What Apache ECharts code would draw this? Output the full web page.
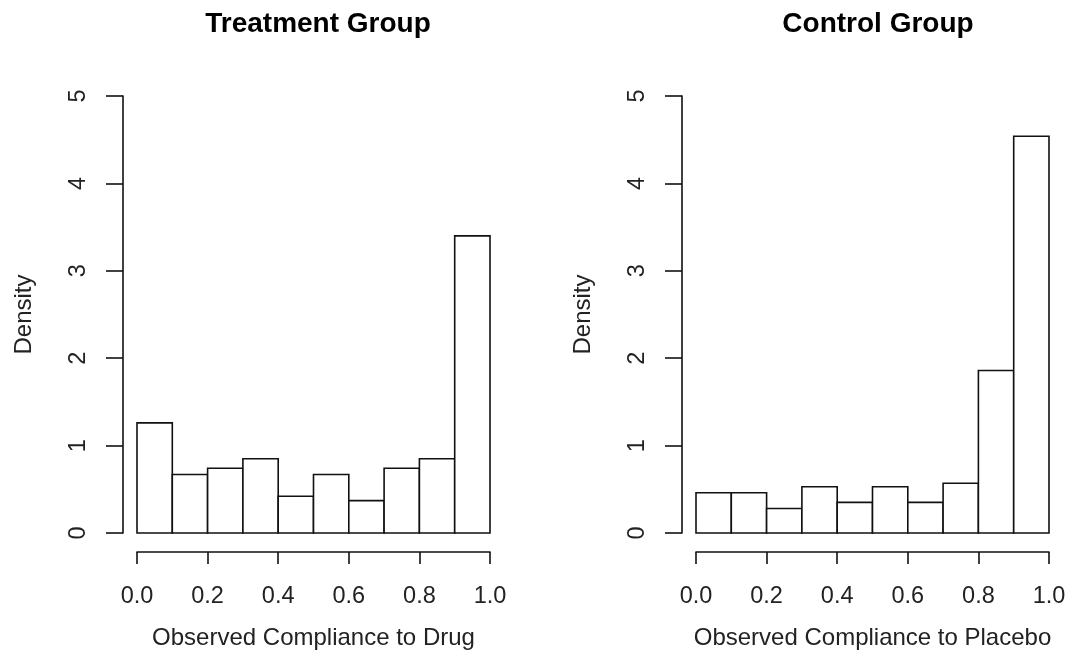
<!DOCTYPE html>
<html>
<head>
<meta charset="utf-8">
<script src="https://cdn.jsdelivr.net/npm/echarts@6/dist/echarts.min.js"></script>
<style>
  html, body { margin: 0; padding: 0; background: #fff; }
  #grafico { width: 1072px; height: 668px; }
</style>
</head>
<body>
<div id="grafico"></div>
<script>
// bin edges (0.0 .. 1.0, width 0.1)
var limites = [0, 0.1, 0.2, 0.3, 0.4, 0.5, 0.6, 0.7, 0.8, 0.9, 1.0];
var densTratamento = [1.26, 0.67, 0.74, 0.85, 0.42, 0.67, 0.37, 0.74, 0.85, 3.40];
var densControle = [0.46, 0.46, 0.28, 0.53, 0.35, 0.53, 0.35, 0.57, 1.86, 4.54];
var ticksY = [0, 1, 2, 3, 4, 5];
var titulos = ['Treatment Group', 'Control Group'];
var nomesX = ['Observed Compliance to Drug', 'Observed Compliance to Placebo'];

function montaBarras(dens) {
  var lista = [];
  for (var i = 0; i < dens.length; i++) {
    lista.push([limites[i], limites[i + 1], dens[i]]);
  }
  return lista;
}

function desenhaBarra(params, api) {
  var a = api.coord([api.value(0), api.value(2)]);
  var b = api.coord([api.value(1), 0]);
  return {
    type: 'rect',
    shape: { x: a[0], y: a[1], width: b[0] - a[0], height: b[1] - a[1] },
    style: { fill: '#fff', stroke: '#111', lineWidth: 1.6 }
  };
}

var fonte = 'Liberation Sans, Arial, sans-serif';
var corLinha = { color: '#111', width: 1.6 };

function eixoX(i) {
  return {
    gridIndex: i,
    type: 'value',
    min: limites[0],
    max: limites[limites.length - 1],
    interval: 0.2,
    offset: 19,
    name: nomesX[i],
    nameLocation: 'middle',
    nameGap: 74,
    nameTextStyle: { fontFamily: fonte, fontSize: 24, color: '#222' },
    axisLine: { show: true, onZero: false, lineStyle: corLinha },
    axisTick: { show: true, length: 12, lineStyle: corLinha },
    axisLabel: {
      fontFamily: fonte, fontSize: 23.5, color: '#222', margin: 33,
      formatter: function (v) { return v.toFixed(1); }
    },
    splitLine: { show: false }
  };
}

function eixoY(i) {
  return {
    gridIndex: i,
    type: 'value',
    min: ticksY[0],
    max: ticksY[ticksY.length - 1],
    interval: 1,
    offset: 14,
    name: 'Density',
    nameLocation: 'middle',
    nameRotate: 90,
    nameGap: 87,
    nameTextStyle: { fontFamily: fonte, fontSize: 24, color: '#222' },
    axisLine: { show: true, onZero: false, lineStyle: corLinha },
    axisTick: { show: true, length: 17, lineStyle: corLinha },
    axisLabel: { fontFamily: fonte, fontSize: 23.5, color: '#222', rotate: 90, margin: 32 },
    splitLine: { show: false }
  };
}

var chartDom = document.getElementById('grafico');
var myChart = echarts.init(chartDom);
var option;

option = {
  backgroundColor: '#fff',
  animation: false,
  title: [
    {
      text: titulos[0], left: 313, top: 5, textAlign: 'center',
      textStyle: { fontFamily: fonte, fontSize: 28, fontWeight: 'bold', color: '#000' }
    },
    {
      text: titulos[1], left: 873, top: 5, textAlign: 'center',
      textStyle: { fontFamily: fonte, fontSize: 28, fontWeight: 'bold', color: '#000' }
    }
  ],
  grid: [
    { left: 137, width: 353, top: 96, height: 437 },
    { left: 696, width: 353, top: 96, height: 437 }
  ],
  xAxis: [eixoX(0), eixoX(1)],
  yAxis: [eixoY(0), eixoY(1)],
  series: [
    {
      name: titulos[0],
      type: 'custom',
      xAxisIndex: 0,
      yAxisIndex: 0,
      renderItem: desenhaBarra,
      data: montaBarras(densTratamento)
    },
    {
      name: titulos[1],
      type: 'custom',
      xAxisIndex: 1,
      yAxisIndex: 1,
      renderItem: desenhaBarra,
      data: montaBarras(densControle)
    }
  ]
};

option && myChart.setOption(option);
</script>
</body>
</html>
